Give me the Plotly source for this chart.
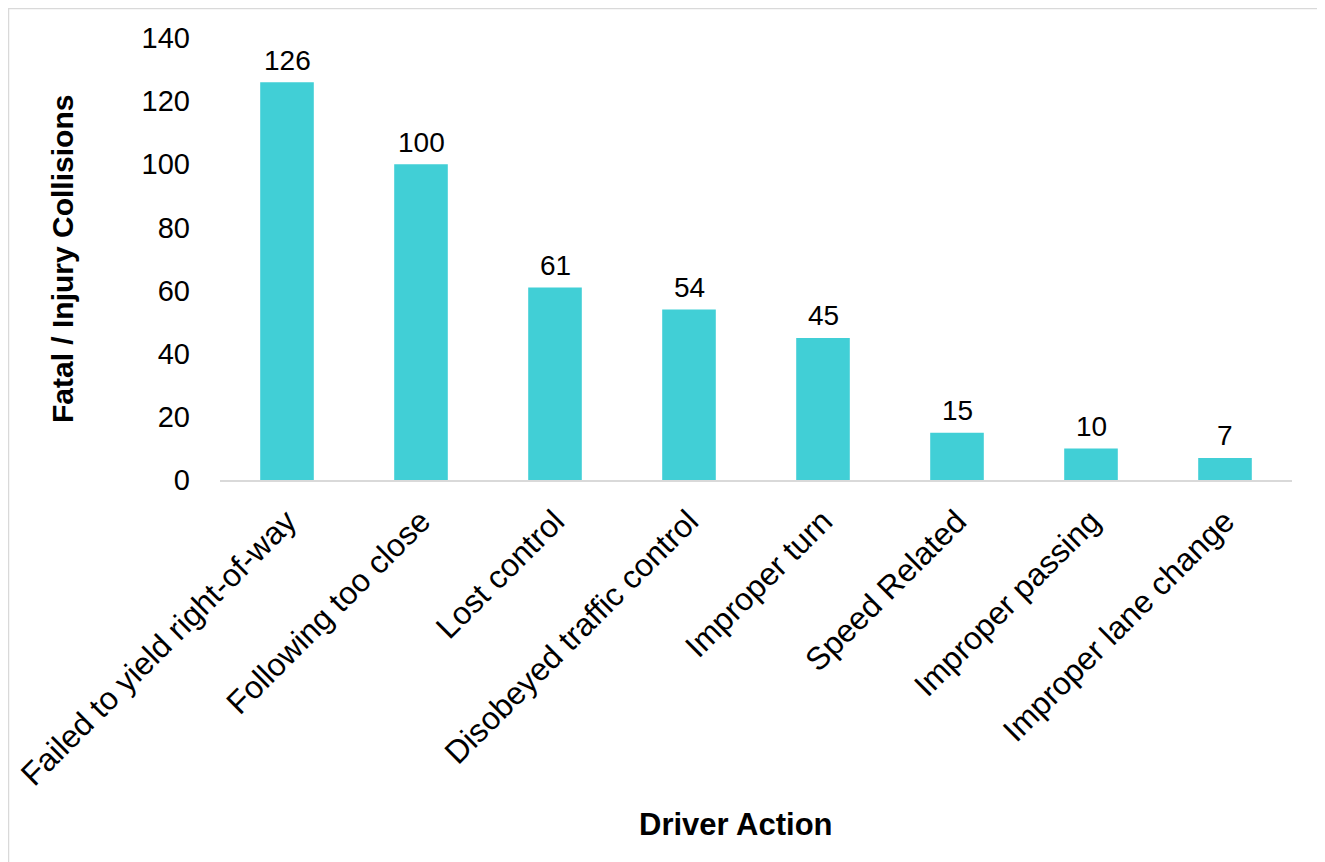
import plotly.graph_objects as go

categories = ["Failed to yield right-of-way", "Following too close", "Lost control",
              "Disobeyed traffic control", "Improper turn", "Speed Related",
              "Improper passing", "Improper lane change"]
values = [126, 100, 61, 54, 45, 15, 10, 7]
y_ticks = [0, 20, 40, 60, 80, 100, 120, 140]

FONT = "Liberation Sans, Arial, sans-serif"
BAR_COLOR = "#41CFD6"

# page has an 8px body margin, so figure coords = page coords - 8
W, H = 1317, 854
L, T = 212, 30
pw, ph = 1072, 442
R = W - L - pw
B = H - T - ph

def px(x):
    return (x - L) / pw

def py(y):
    return (H - B - y) / ph

fig = go.Figure()
fig.add_trace(go.Bar(
    x=categories, y=values,
    marker=dict(color=BAR_COLOR, line=dict(width=0)),
    cliponaxis=False,
))

value_labels = [dict(x=c, y=v, xref="x", yref="y", text=str(v), showarrow=False,
                     xanchor="center", yanchor="middle", yshift=22,
                     font=dict(family=FONT, size=28, color="#000000"))
                for c, v in zip(categories, values)]

fig.update_layout(
    width=W, height=H,
    margin=dict(l=L, r=R, t=T, b=B, pad=0, autoexpand=False),
    paper_bgcolor="white", plot_bgcolor="white",
    bargap=0.6, showlegend=False,
    font=dict(family=FONT, color="#000000"),
    xaxis=dict(
        automargin=False,
        showline=True, linecolor="#D9D9D9", linewidth=1.5,
        ticks="", tickangle=-45, ticklabelstandoff=8,
        tickfont=dict(family=FONT, size=32, color="#000000"),
        showgrid=False, zeroline=False,
    ),
    yaxis=dict(
        automargin=False,
        range=[0, 140], tickvals=y_ticks, ticktext=[str(t) for t in y_ticks],
        showline=False, showgrid=False, zeroline=False, ticks="",
        ticklabelstandoff=29,
        tickfont=dict(family=FONT, size=29, color="#000000"),
    ),
    shapes=[dict(type="rect", xref="paper", yref="paper",
                 x0=px(0), x1=px(1313), y0=py(870), y1=py(0),
                 line=dict(color="#D9D9D9", width=2.5), fillcolor="rgba(0,0,0,0)",
                 layer="below")],
    annotations=value_labels + [
        dict(text="<b>Driver Action</b>", xref="paper", yref="paper",
             x=px(728), y=py(816), showarrow=False, xanchor="center", yanchor="middle",
             font=dict(family=FONT, size=31, color="#000000")),
        dict(text="<b>Fatal / Injury Collisions</b>", xref="paper", yref="paper",
             x=px(54), y=py(251), showarrow=False, xanchor="center", yanchor="middle",
             textangle=-90, font=dict(family=FONT, size=30, color="#000000")),
    ],
)

fig.write_html("out.html")
